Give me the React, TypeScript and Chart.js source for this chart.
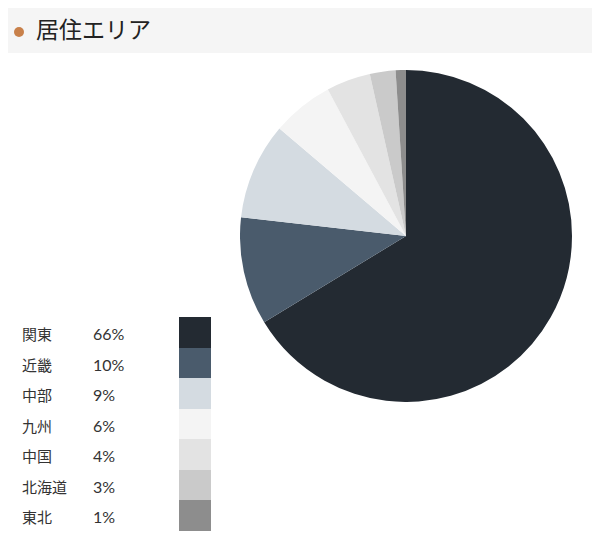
import { useEffect, useRef } from 'react'
import Chart from 'chart.js/auto'

const regions = ['関東', '近畿', '中部', '九州', '中国', '北海道', '東北']
const shares = [66.3, 10.5, 9.4, 6.0, 4.3, 2.5, 1.0]
const shareLabels = ['66%', '10%', '9%', '6%', '4%', '3%', '1%']
const sliceColors = ['#232a32', '#4a5b6c', '#d4dbe1', '#f4f4f4', '#e3e3e3', '#cacaca', '#8d8d8d']

const ROW_H = 30.5

export default function App() {
  const chartRef = useRef<HTMLCanvasElement | null>(null)

  useEffect(() => {
    if (!chartRef.current) return
    const chart = new Chart(chartRef.current, {
      type: 'pie',
      data: {
        labels: regions,
        datasets: [
          {
            data: shares,
            backgroundColor: sliceColors,
            borderWidth: 0,
            hoverOffset: 0,
          },
        ],
      },
      options: {
        responsive: false,
        animation: false,
        layout: { padding: 0 },
        plugins: {
          legend: { display: false },
          tooltip: { enabled: false },
        },
      },
    })
    return () => chart.destroy()
  }, [])

  return (
    <div
      style={{
        position: 'relative',
        width: 600,
        height: 545,
        margin: -8,
        background: '#fff',
        fontFamily: '"Noto Sans CJK JP", "Noto Sans", sans-serif',
        color: '#333',
      }}
    >
      {/* header bar */}
      <div
        style={{
          position: 'absolute',
          left: 3,
          top: 4,
          width: 595,
          height: 49,
          background: '#f5f5f5',
        }}
      >
        <div
          style={{
            position: 'absolute',
            left: 11,
            top: 23,
            width: 10,
            height: 10,
            borderRadius: '50%',
            background: '#c8804a',
          }}
        />
        <div
          style={{
            position: 'absolute',
            left: 33,
            top: 0,
            height: 49,
            lineHeight: '49px',
            fontSize: 23,
            color: '#222',
          }}
        >
          居住エリア
        </div>
      </div>

      <canvas
        ref={chartRef}
        width={332}
        height={332}
        style={{ position: 'absolute', left: 240, top: 70, width: 332, height: 332 }}
      />

      {/* legend */}
      {regions.map((r, i) => (
        <div key={r}>
          <div
            style={{
              position: 'absolute',
              left: 22,
              top: 317 + i * ROW_H + 2,
              height: ROW_H,
              lineHeight: ROW_H + 'px',
              fontSize: 15,
            }}
          >
            {r}
          </div>
          <div
            style={{
              position: 'absolute',
              left: 93,
              top: 317 + i * ROW_H + 2,
              height: ROW_H,
              lineHeight: ROW_H + 'px',
              fontSize: 16,
              fontFamily: 'Lato, "Noto Sans", sans-serif',
            }}
          >
            {shareLabels[i]}
          </div>
          <div
            style={{
              position: 'absolute',
              left: 179,
              top: 317 + i * ROW_H,
              width: 32,
              height: ROW_H,
              background: sliceColors[i],
            }}
          />
        </div>
      ))}
    </div>
  )
}
